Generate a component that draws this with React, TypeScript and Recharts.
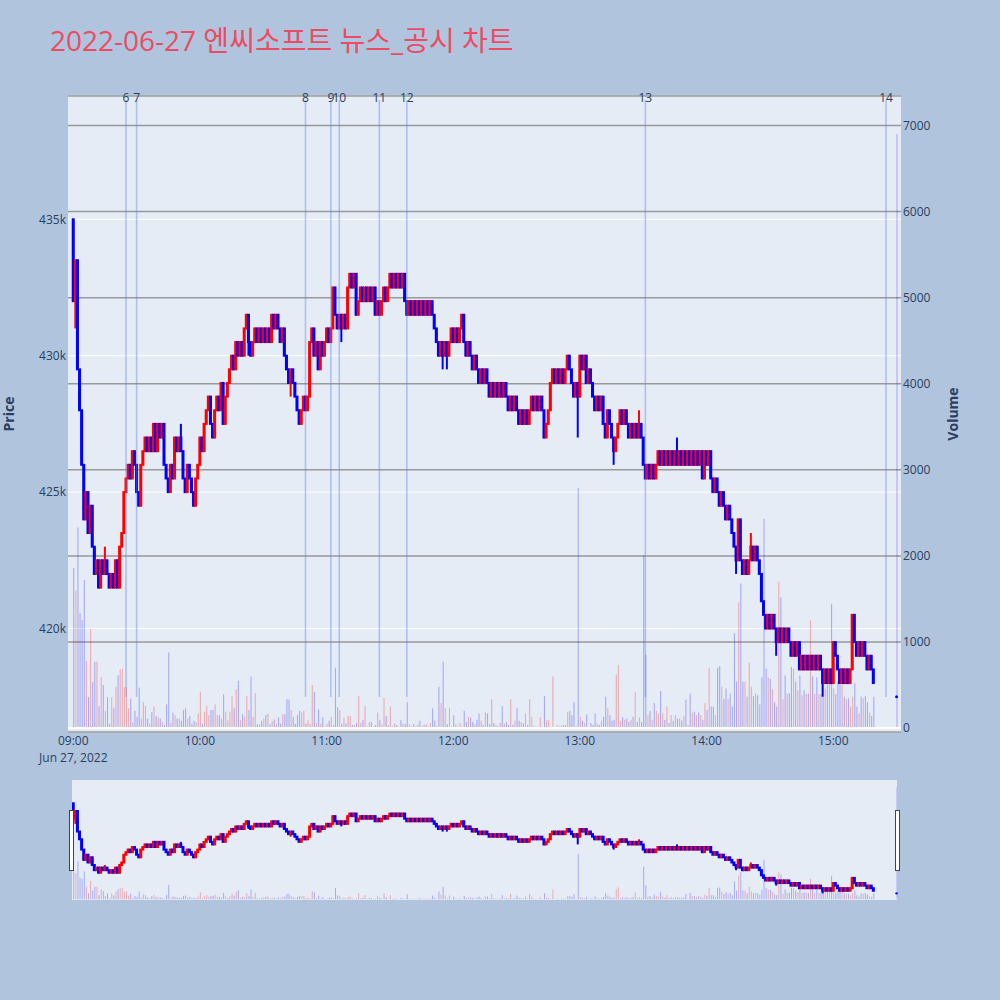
import React from 'react';
import { ComposedChart, Bar, XAxis, YAxis, CartesianGrid, ReferenceLine, ReferenceDot } from 'recharts';

// minute closes (thousand won), one list per trading hour
const firstOpen = 435.0;
const closes09 = [
  432.0, 433.5, 429.5, 428.0, 426.0, 424.0, 425.0, 423.5, 424.5, 423.0,
  422.0, 422.5, 421.5, 422.5, 422.0, 422.5, 422.0, 421.5, 422.0, 421.5,
  422.5, 421.5, 423.0, 423.5, 425.0, 425.5, 426.0, 425.5, 426.5, 426.0,
  425.0, 424.5, 426.0, 426.5, 427.0, 426.5, 427.0, 426.5, 427.5, 426.5,
  427.5, 427.0, 427.5, 426.0, 425.5, 425.0, 426.0, 425.5, 427.0, 426.5,
  427.0, 426.5, 425.5, 425.0, 426.0, 425.5, 425.0, 424.5, 425.5, 426.0,
];
const closes10 = [
  427.0, 426.5, 427.5, 428.0, 428.5, 427.5, 427.0, 428.0, 428.5, 428.0,
  429.0, 427.5, 428.5, 429.0, 429.5, 430.0, 429.5, 430.5, 430.0, 430.5,
  430.0, 431.0, 431.5, 430.5, 430.0, 430.5, 431.0, 430.5, 431.0, 430.5,
  431.0, 430.5, 431.0, 430.5, 431.5, 431.0, 431.5, 431.0, 430.5, 431.0,
  430.0, 429.5, 429.0, 429.5, 429.0, 428.5, 428.0, 427.5, 428.0, 428.5,
  428.0, 428.5, 430.5, 431.0, 430.0, 430.5, 429.5, 430.5, 430.0, 430.5,
];
const closes11 = [
  431.0, 430.5, 431.0, 432.5, 431.5, 431.0, 431.5, 431.0, 431.5, 431.0,
  432.5, 433.0, 432.5, 433.0, 431.5, 432.0, 432.5, 432.0, 432.5, 432.0,
  432.5, 432.0, 432.5, 431.5, 432.0, 431.5, 432.0, 432.5, 432.0, 432.5,
  433.0, 432.5, 433.0, 432.5, 433.0, 432.5, 433.0, 432.0, 431.5, 432.0,
  431.5, 432.0, 431.5, 432.0, 431.5, 432.0, 431.5, 432.0, 431.5, 432.0,
  431.5, 431.0, 430.5, 430.0, 430.5, 430.0, 430.5, 430.0, 430.5, 431.0,
];
const closes12 = [
  430.5, 431.0, 430.5, 431.0, 431.5, 430.5, 430.0, 430.5, 430.0, 429.5,
  430.0, 429.5, 429.0, 429.5, 429.0, 429.5, 429.0, 428.5, 429.0, 428.5,
  429.0, 428.5, 429.0, 428.5, 429.0, 428.5, 428.0, 428.5, 428.0, 428.5,
  428.0, 427.5, 428.0, 427.5, 428.0, 427.5, 428.0, 428.5, 428.0, 428.5,
  428.0, 428.5, 428.0, 427.0, 427.5, 428.0, 429.0, 429.5, 429.0, 429.5,
  429.0, 429.5, 429.0, 429.5, 430.0, 429.5, 429.0, 428.5, 429.0, 428.5,
];
const closes13 = [
  430.0, 429.5, 430.0, 429.0, 429.5, 429.0, 428.5, 428.0, 428.5, 428.0,
  428.5, 427.5, 427.0, 428.0, 427.5, 427.0, 426.5, 427.0, 427.5, 428.0,
  427.5, 428.0, 427.5, 427.0, 427.5, 427.0, 427.5, 427.0, 427.5, 427.0,
  426.0, 425.5, 426.0, 425.5, 426.0, 425.5, 426.0, 426.5, 426.0, 426.5,
  426.0, 426.5, 426.0, 426.5, 426.0, 426.5, 426.0, 426.5, 426.0, 426.5,
  426.0, 426.5, 426.0, 426.5, 426.0, 426.5, 426.0, 426.5, 425.5, 426.5,
];
const closes14 = [
  426.0, 426.5, 425.5, 425.0, 425.5, 425.0, 424.5, 425.0, 424.5, 424.0,
  424.5, 424.0, 423.5, 423.0, 422.5, 424.0, 422.5, 422.0, 422.5, 422.0,
  422.5, 423.0, 422.5, 423.0, 422.5, 422.0, 421.0, 420.5, 420.0, 420.5,
  420.0, 420.5, 420.0, 419.5, 420.0, 419.5, 420.0, 419.5, 420.0, 419.5,
  419.0, 419.5, 419.0, 419.5, 418.5, 419.0, 418.5, 419.0, 418.5, 419.0,
  418.5, 419.0, 418.5, 419.0, 418.5, 418.0, 418.5, 418.0, 418.5, 418.0,
];
const closes15 = [
  419.5, 419.0, 418.5, 418.0, 418.5, 418.0, 418.5, 418.0, 418.5, 420.5,
  419.5, 419.0, 419.5, 419.0, 419.5, 419.0, 418.5, 419.0, 418.5, 418.0,
];

// minute volumes
const volumes09 = [
  1860, 1600, 2330, 1335, 1254, 1720, 778, 360, 1150, 534,
  770, 770, 255, 592, 500, 200, 360, 50, 360, 236,
  477, 612, 680, 690, 477, 477, 230, 340, 70, 200,
  130, 470, 110, 300, 255, 110, 50, 185, 250, 140,
  125, 110, 70, 35, 275, 880, 60, 180, 150, 110,
  110, 85, 210, 230, 110, 140, 50, 85, 70, 170,
];
const volumes10 = [
  420, 50, 190, 255, 150, 210, 210, 275, 150, 150,
  110, 390, 190, 90, 190, 370, 230, 450, 550, 90,
  160, 130, 370, 210, 600, 130, 405, 45, 45, 85,
  110, 150, 170, 45, 80, 100, 50, 125, 50, 160,
  160, 335, 330, 210, 130, 50, 150, 200, 180, 200,
  50, 90, 50, 500, 420, 60, 215, 50, 125, 20,
];
const volumes11 = [
  45, 85, 130, 35, 700, 240, 210, 50, 120, 50,
  140, 140, 35, 35, 60, 370, 60, 95, 255, 20,
  70, 70, 20, 35, 180, 90, 40, 350, 140, 35,
  250, 20, 50, 35, 10, 90, 50, 50, 300, 40,
  20, 50, 20, 45, 85, 20, 35, 45, 20, 60,
  230, 85, 20, 480, 290, 770, 230, 45, 230, 20,
];
const volumes12 = [
  150, 45, 20, 60, 20, 200, 70, 130, 120, 70,
  45, 95, 170, 85, 35, 180, 170, 45, 335, 60,
  35, 20, 60, 255, 50, 70, 35, 335, 35, 85,
  230, 85, 70, 50, 170, 35, 335, 130, 20, 20,
  10, 125, 10, 370, 90, 90, 10, 600, 5, 35,
  20, 30, 35, 35, 190, 200, 150, 300, 20, 2790,
];
const volumes13 = [
  130, 85, 60, 160, 10, 60, 35, 170, 50, 35,
  85, 130, 365, 230, 150, 85, 95, 620, 730, 85,
  125, 95, 110, 70, 95, 130, 420, 70, 125, 70,
  2010, 850, 150, 200, 95, 290, 200, 165, 430, 170,
  95, 250, 60, 150, 85, 150, 110, 110, 90, 140,
  330, 35, 400, 180, 190, 150, 180, 150, 95, 290,
];
const volumes14 = [
  210, 700, 250, 250, 150, 700, 720, 480, 335, 460,
  335, 400, 250, 1100, 540, 1460, 1680, 540, 540, 365,
  760, 480, 370, 400, 380, 275, 590, 2430, 690, 590,
  570, 450, 300, 250, 1700, 1520, 335, 610, 400, 405,
  710, 690, 540, 440, 610, 380, 440, 395, 400, 1250,
  600, 395, 590, 395, 395, 510, 460, 500, 630, 1440,
];
const volumes15 = [
  460, 395, 540, 500, 500, 365, 335, 345, 250, 365,
  520, 250, 170, 365, 345, 370, 300, 180, 140, 365,
];

// minutes whose high/low reaches past the body
const wickMinutes = [1, 15, 51, 83, 103, 127, 175, 177, 239, 256, 268, 286, 314, 321, 333, 355];
const wickPrices = [431.0, 423.0, 427.5, 430.0, 428.5, 430.5, 429.5, 429.5, 427.0, 426.0, 428.0, 427.0, 422.0, 423.5, 419.0, 417.5];

// closing auction print
const auctionMinute = 390;
const auctionPrice = 417.5;
const auctionVolume = 6900;

// news / disclosure markers
const eventMinutes = [25, 30, 110, 122, 126, 145, 158, 271, 385];
const eventLabels = ['6', '7', '8', '9', '10', '11', '12', '13', '14'];

const priceTicks = [420000, 425000, 430000, 435000];
const volumeTicks = [0, 1000, 2000, 3000, 4000, 5000, 6000, 7000];
const timeTicks = [0, 60, 120, 180, 240, 300, 360];
const timeLabels = ['09:00', '10:00', '11:00', '12:00', '13:00', '14:00', '15:00'];

const UP = '#ff0000';
const DOWN = '#0000ff';
const PAPER = '#b0c4de';
const PLOT_BG = '#e5ecf6';
const TEXT = '#2a3f5f';
const FONT = "'Open Sans', 'Noto Sans CJK KR', sans-serif";

const PRICE_DOMAIN = [416206, 439520];
const VOLUME_DOMAIN = [-46, 7343];

type Row = { m: number; o: number; c: number; h: number; l: number; v: number; up: boolean; auction?: boolean };

const closes = [closes09, closes10, closes11, closes12, closes13, closes14, closes15].flat();
const volumes = [volumes09, volumes10, volumes11, volumes12, volumes13, volumes14, volumes15].flat();

const rows: Row[] = closes.map((c, i) => {
  const o = i === 0 ? firstOpen : closes[i - 1];
  const w = wickMinutes.indexOf(i);
  const ext = w >= 0 ? wickPrices[w] : c;
  return {
    m: i,
    o: o * 1000,
    c: c * 1000,
    h: Math.max(o, c, ext) * 1000,
    l: Math.min(o, c, ext) * 1000,
    v: volumes[i],
    up: c > o,
  };
});
rows.push({
  m: auctionMinute,
  o: auctionPrice * 1000,
  c: auctionPrice * 1000,
  h: auctionPrice * 1000,
  l: auctionPrice * 1000,
  v: auctionVolume,
  up: false,
  auction: true,
});

const candleRange = (d: Row) => (d.auction ? undefined : [d.l, d.h]);

// plotly-like candle: 2px wick, body box with a 2px outline
const makeCandle = (bodyWidth: number, lineWidth: number) => (props: any) => {
  const { x, width, payload } = props;
  let { y, height } = props;
  if (x == null || y == null || !payload) return <g />;
  if (height < 0) {
    y += height;
    height = -height;
  }
  const cx = x + width / 2;
  const color = payload.up ? UP : DOWN;
  const span = payload.h - payload.l;
  const k = span > 0 ? height / span : 0;
  const top = y + (payload.h - Math.max(payload.o, payload.c)) * k;
  const bodyH = Math.abs(payload.c - payload.o) * k;
  return (
    <g>
      <line x1={cx} x2={cx} y1={y} y2={y + height} stroke={color} strokeWidth={lineWidth} />
      <rect
        x={cx - bodyWidth / 2}
        y={top}
        width={bodyWidth}
        height={Math.max(bodyH, 0.5)}
        fill={color}
        stroke={color}
        strokeWidth={lineWidth}
      />
    </g>
  );
};

const makeVolume = (barWidth: number, opacity: number) => (props: any) => {
  const { x, y, width, height, payload } = props;
  if (x == null || y == null || !payload) return <g />;
  const cx = x + width / 2;
  return (
    <rect
      x={cx - barWidth / 2}
      y={height < 0 ? y + height : y}
      width={barWidth}
      height={Math.abs(height)}
      fill={payload.up ? UP : DOWN}
      fillOpacity={opacity}
    />
  );
};

const TimeTick = (props: any) => {
  const { x, y, payload } = props;
  const i = timeTicks.indexOf(payload.value);
  return (
    <g>
      <text x={x} y={y + 13} textAnchor="middle" fill={TEXT} fontSize={12}>
        {timeLabels[i]}
      </text>
      {i === 0 && (
        <text x={x} y={y + 30} textAnchor="middle" fill={TEXT} fontSize={12}>
          Jun 27, 2022
        </text>
      )}
    </g>
  );
};

const mainCandle = makeCandle(1, 2);
const mainVolume = makeVolume(1.1, 0.28);
const miniCandle = makeCandle(1, 2);
const miniVolume = makeVolume(1, 0.28);

export default function App() {
  return (
    <div
      style={{
        position: 'absolute',
        left: 0,
        top: 0,
        width: 1000,
        height: 1000,
        background: PAPER,
        fontFamily: FONT,
        overflow: 'hidden',
      }}
    >
      <div style={{ position: 'absolute', left: 0, top: 0 }}>
        <ComposedChart width={1000} height={800} data={rows} margin={{ top: 96, right: 0, bottom: 18, left: 0 }}>
          <CartesianGrid xAxisId="main" yAxisId="price" vertical={false} stroke="#ffffff" strokeWidth={1} fill={PLOT_BG} fillOpacity={1} />
          <CartesianGrid xAxisId="main" yAxisId="vol" vertical={false} stroke="#999999" strokeWidth={1.5} fill="none" />
          <XAxis
            xAxisId="main"
            dataKey="m"
            type="number"
            domain={[-2.5, 392.1]}
            ticks={timeTicks}
            interval={0}
            tick={<TimeTick />}
            axisLine={false}
            tickLine={false}
            tickSize={0}
            tickMargin={0}
            height={50}
            allowDataOverflow
          />
          <XAxis xAxisId="vol" dataKey="m" type="number" domain={[-2.5, 392.1]} hide allowDataOverflow />
          <YAxis
            yAxisId="price"
            orientation="left"
            domain={PRICE_DOMAIN}
            ticks={priceTicks}
            interval={0}
            tickFormatter={(v: number) => `${v / 1000}k`}
            width={68}
            axisLine={false}
            tickLine={false}
            tickSize={0}
            tickMargin={2}
            tick={{ fill: TEXT, fontSize: 12 }}
            allowDataOverflow
          />
          <YAxis
            yAxisId="vol"
            orientation="right"
            domain={VOLUME_DOMAIN}
            ticks={volumeTicks}
            interval={0}
            width={99}
            axisLine={false}
            tickLine={false}
            tickSize={0}
            tickMargin={2}
            tick={{ fill: TEXT, fontSize: 12, textAnchor: 'start' }}
            allowDataOverflow
          />
          <ReferenceLine xAxisId="main" yAxisId="vol" y={0} stroke="#ffffff" strokeWidth={2} />
          <Bar xAxisId="vol" yAxisId="vol" dataKey="v" barSize={1} shape={mainVolume} isAnimationActive={false} />
          {eventMinutes.map((m, i) => (
            <ReferenceLine
              key={`ev${i}`}
              xAxisId="main"
              yAxisId="price"
              segment={[
                { x: m, y: 417490 },
                { x: m, y: 439370 },
              ]}
              stroke="rgba(90,125,235,0.4)"
              strokeWidth={1.6}
            />
          ))}
          <Bar xAxisId="main" yAxisId="price" dataKey={candleRange} barSize={2} shape={mainCandle} isAnimationActive={false} />
          <ReferenceDot xAxisId="main" yAxisId="price" x={auctionMinute} y={auctionPrice * 1000} r={1.5} fill={DOWN} stroke="none" />
          {eventMinutes.map((m, i) => (
            <ReferenceDot
              key={`lb${i}`}
              xAxisId="main"
              yAxisId="price"
              x={m}
              y={439450}
              r={0}
              stroke="none"
              fill="none"
              ifOverflow="visible"
              label={{ value: eventLabels[i], position: 'center', fill: TEXT, fontSize: 12 }}
            />
          ))}
        </ComposedChart>
      </div>

      <div style={{ position: 'absolute', left: 72, top: 780, width: 825, height: 120, background: PLOT_BG }} />
      <div style={{ position: 'absolute', left: 0, top: 780 }}>
        <ComposedChart width={1000} height={120} data={rows} margin={{ top: 0, right: 103, bottom: 0, left: 72 }}>
          <XAxis xAxisId="main" dataKey="m" type="number" domain={[-0.6, 390.2]} hide allowDataOverflow />
          <XAxis xAxisId="vol" dataKey="m" type="number" domain={[-0.6, 390.2]} hide allowDataOverflow />
          <YAxis yAxisId="price" domain={PRICE_DOMAIN} hide width={0} allowDataOverflow />
          <YAxis yAxisId="vol" domain={VOLUME_DOMAIN} hide width={0} allowDataOverflow />
          <Bar xAxisId="vol" yAxisId="vol" dataKey="v" barSize={1} shape={miniVolume} isAnimationActive={false} />
          <Bar xAxisId="main" yAxisId="price" dataKey={candleRange} barSize={2} shape={miniCandle} isAnimationActive={false} />
          <ReferenceDot xAxisId="main" yAxisId="price" x={auctionMinute} y={auctionPrice * 1000} r={1.2} fill={DOWN} stroke="none" />
        </ComposedChart>
      </div>
      <div style={{ position: 'absolute', left: 69, top: 810, width: 3, height: 59, background: '#fff', border: '1px solid #444' }} />
      <div style={{ position: 'absolute', left: 895, top: 810, width: 3, height: 59, background: '#fff', border: '1px solid #444' }} />

      <svg width={1000} height={1000} style={{ position: 'absolute', left: 0, top: 0, pointerEvents: 'none' }}>
        <text x={50} y={51} fontSize={28} fill="#eb4c64" fontFamily={FONT}>
          2022-06-27 엔씨소프트 뉴스_공시 차트
        </text>
        <text transform="translate(14,414) rotate(-90)" textAnchor="middle" fontSize={14} fontWeight="bold" fill={TEXT} fontFamily={FONT}>
          Price
        </text>
        <text transform="translate(958,414) rotate(-90)" textAnchor="middle" fontSize={14} fontWeight="bold" fill={TEXT} fontFamily={FONT}>
          Volume
        </text>
      </svg>
    </div>
  );
}
